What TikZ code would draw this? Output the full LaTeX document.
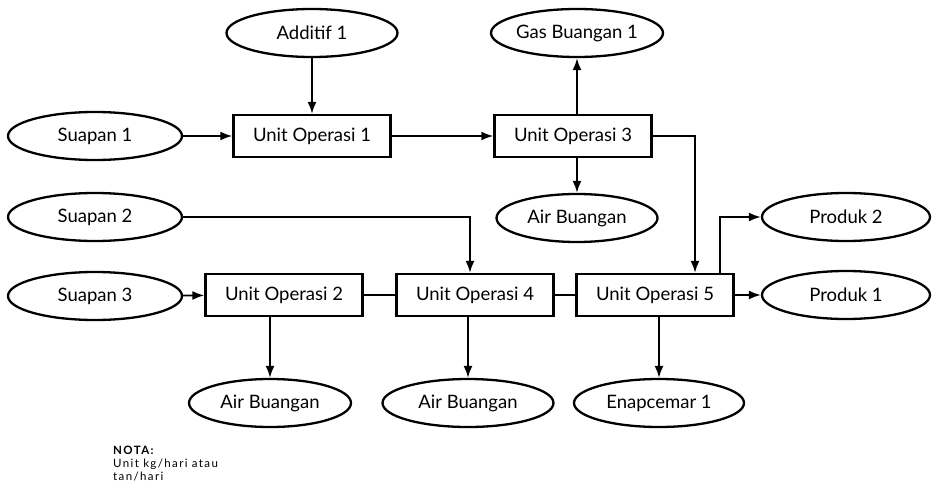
\documentclass[tikz,border=0pt]{standalone}
\usepackage{fontspec}
\setmainfont{Lato}
\usetikzlibrary{shapes.geometric,arrows.meta}

\begin{document}
\begin{tikzpicture}[x=1pt, y=-1pt,
    stream/.style={draw, ellipse, line width=2.3pt, minimum height=48pt, inner sep=0pt, font=\fontsize{18.5}{22}\selectfont},
    opbox/.style={draw, rectangle, line width=2.3pt, minimum width=157pt, minimum height=42pt, inner sep=0pt, font=\fontsize{18.5}{22}\selectfont},
    flow/.style={draw, line width=1.9pt, -{Latex[length=12pt, width=9pt]}},
    link/.style={draw, line width=1.9pt}
    ]

    \useasboundingbox[fill=white] (0,0) rectangle (932,487);

    % Streams (name/x/y/width/label)
    \foreach \name/\xx/\yy/\ewidth/\txt in {
        add1/312/33/171/Additif 1,
        gas1/577/33/150/Gas Buangan 1,
        feed1/95/136/174/Suapan 1,
        feed2/95/217/174/Suapan 2,
        feed3/95/296/174/Suapan 3,
        waste1/577/218/161/Air Buangan,
        prod2/846/217/168/Produk 2,
        prod1/846/295/168/Produk 1,
        waste2/270/403/162/Air Buangan,
        waste3/468/403/171/Air Buangan,
        sludge1/659/403/170/Enapcemar 1
    } {
        \node[stream, minimum width=\ewidth pt] (\name) at (\xx,\yy) {\txt};
    }

    % Unit operations (name/x/y/number)
    \foreach \name/\xx/\yy/\num in {
        uo1/312/136/1,
        uo3/573/136/3,
        uo2/284/295/2,
        uo4/475/295/4,
        uo5/655/295/5
    } {
        \node[opbox] (\name) at (\xx,\yy) {Unit Operasi \num};
    }

    % Connectors
    \draw[flow] (add1) -- (uo1);
    \draw[flow] (feed1) -- (uo1);
    \draw[flow] (uo1) -- (uo3);
    \draw[flow] (gas1 |- uo3.north) -- (gas1);
    \draw[flow] (waste1 |- uo3.south) -- (waste1);
    \draw[flow] (feed2.east) -| ([xshift=-5pt]uo4.north);
    \draw[flow] (uo3.east) -| ([xshift=40pt]uo5.north);
    \draw[flow] ([xshift=65pt]uo5.north) |- (prod2.west);
    \draw[flow] (feed3) -- (uo2);
    \draw[link] (uo2) -- (uo4);
    \draw[link] (uo4) -- (uo5);
    \draw[flow] (uo5) -- (prod1);
    \draw[flow] (waste2 |- uo2.south) -- (waste2);
    \draw[flow] (waste3 |- uo4.south) -- (waste3);
    \draw[flow] (sludge1 |- uo5.south) -- (sludge1);

    % Note
    \node[anchor=north west, align=left, inner sep=0pt, font=\fontsize{11.5}{13}\selectfont\addfontfeature{LetterSpace=12}] (note) at (113,446)
        {\textbf{NOTA:}\\Unit kg/hari atau\\tan/hari};
\end{tikzpicture}
\end{document}
